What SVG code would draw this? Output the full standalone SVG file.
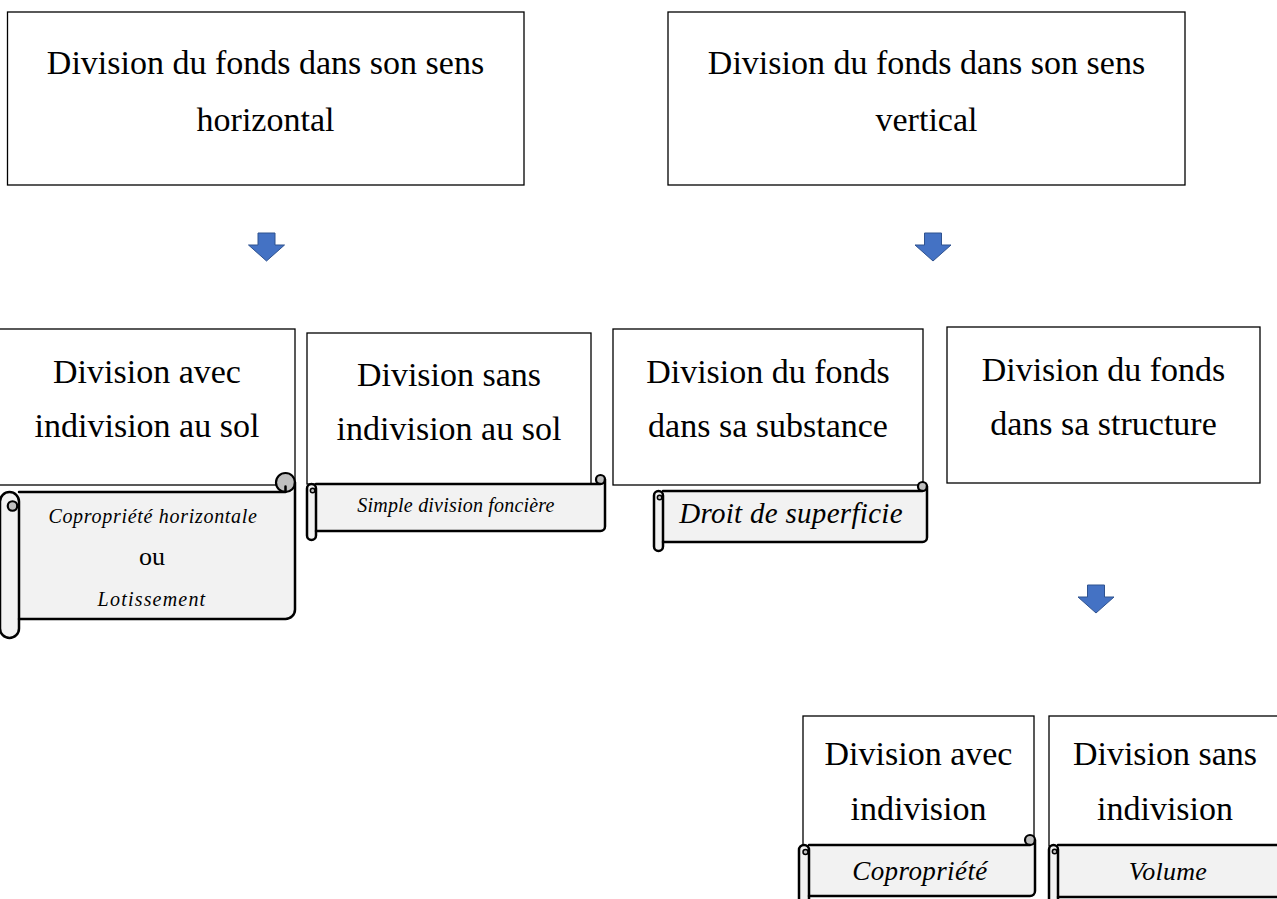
<svg xmlns="http://www.w3.org/2000/svg" width="1277" height="899" viewBox="0 0 1277 899">
<style>
.box{fill:#fff;stroke:#000;stroke-width:1.3}
.t{font-family:"Liberation Serif","Times New Roman",serif;font-size:34px;text-anchor:middle;fill:#000}
.it{font-style:italic}
.sf{fill:#f2f2f2;stroke:none}
.roll{fill:#f2f2f2;stroke:#000;stroke-width:2.5;stroke-linejoin:round}
.sc{fill:none;stroke:#000;stroke-width:2.5;stroke-linejoin:round;stroke-linecap:round}
.curl{fill:#bfbfbf;stroke:#000;stroke-width:2.2}
.arrow{fill:#4472c4;stroke:#2f528f;stroke-width:1}
</style>
<defs>
<path id="darrow" d="M-8.5,0 H8.5 V12 H18 L0,28 L-18,12 H-8.5 Z"/>
</defs>
<rect width="1277" height="899" fill="#fff"/>

<g id="n-horizontal">
<rect class="box" x="7.5" y="12" width="516.5" height="173"/>
<text class="t" x="265.5" y="73.5">Division du fonds dans son sens</text>
<text class="t" x="265.5" y="130.5">horizontal</text>
</g>
<g id="n-vertical">
<rect class="box" x="668" y="12" width="517" height="173"/>
<text class="t" x="926.5" y="73.5">Division du fonds dans son sens</text>
<text class="t" x="926.5" y="130.5">vertical</text>
</g>

<g id="n-avec-sol">
<rect class="box" x="-2" y="329" width="297" height="156"/>
<text class="t" x="147" y="383">Division avec</text>
<text class="t" x="147" y="437">indivision au sol</text>
</g>
<g id="n-sans-sol">
<rect class="box" x="307" y="333" width="284" height="151"/>
<text class="t" x="449" y="386">Division sans</text>
<text class="t" x="449" y="440">indivision au sol</text>
</g>
<g id="n-substance">
<rect class="box" x="613" y="329" width="310" height="156"/>
<text class="t" x="768" y="383">Division du fonds</text>
<text class="t" x="768" y="437">dans sa substance</text>
</g>
<g id="n-structure">
<rect class="box" x="947" y="327" width="313" height="156"/>
<text class="t" x="1103.5" y="381">Division du fonds</text>
<text class="t" x="1103.5" y="435">dans sa structure</text>
</g>
<g id="n-avec">
<rect class="box" x="803" y="716" width="231" height="130"/>
<text class="t" x="918.5" y="765">Division avec</text>
<text class="t" x="918.5" y="820">indivision</text>
</g>
<g id="n-sans">
<rect class="box" x="1049" y="716" width="241" height="130"/>
<text class="t" x="1165" y="765">Division sans</text>
<text class="t" x="1165" y="820">indivision</text>
</g>

<g id="s-copro-horiz">
<path class="sf" d="M19,492 H295 V609.5 A9.5,9.5 0 0 1 285.5,619 H19 Z"/>
<path class="roll" d="M0,501.5 A9.5,9.5 0 0 1 19,501.5 V628.5 A9.5,9.5 0 0 1 0,628.5 Z"/>
<circle class="curl" cx="12.5" cy="506" r="4.75"/>
<circle class="curl" cx="285.5" cy="482.5" r="9.5"/>
<path class="sc" d="M19,492 H285.5 M295,482.5 V609.5 A9.5,9.5 0 0 1 285.5,619 H19 M285.5,492 V486.5"/>
<text class="t it" x="153" y="523" style="font-size:20px;letter-spacing:0.7px">Copropriété horizontale</text>
<text class="t" x="152" y="565" style="font-size:26px">ou</text>
<text class="t it" x="152" y="606" style="font-size:20px;letter-spacing:1.2px">Lotissement</text>
</g>

<g id="s-simple">
<path class="sf" d="M316,484 H605 V526.5 A4.5,4.5 0 0 1 600.5,531 H316 Z"/>
<path class="roll" d="M307,488.5 A4.5,4.5 0 0 1 316,488.5 V535.5 A4.5,4.5 0 0 1 307,535.5 Z"/>
<circle class="curl" cx="312.6" cy="490.5" r="2.25" style="stroke-width:1.5"/>
<circle class="curl" cx="600.5" cy="479.5" r="4.5"/>
<path class="sc" d="M316,484 H600.5 M605,479.5 V526.5 A4.5,4.5 0 0 1 600.5,531 H316"/>
<text class="t it" x="456" y="512" style="font-size:20px;letter-spacing:0.2px">Simple division foncière</text>
</g>

<g id="s-superficie">
<path class="sf" d="M663,491 H927 V537.5 A4.5,4.5 0 0 1 922.5,542 H663 Z"/>
<path class="roll" d="M654,495.5 A4.5,4.5 0 0 1 663,495.5 V546.5 A4.5,4.5 0 0 1 654,546.5 Z"/>
<circle class="curl" cx="659.6" cy="497.5" r="2.25" style="stroke-width:1.5"/>
<circle class="curl" cx="922.5" cy="486.5" r="4.5"/>
<path class="sc" d="M663,491 H922.5 M927,486.5 V537.5 A4.5,4.5 0 0 1 922.5,542 H663"/>
<text class="t it" x="791" y="523" style="font-size:29px;letter-spacing:0.3px">Droit de superficie</text>
</g>

<g id="s-copro">
<path class="sf" d="M809,845 H1035 V891 A5,5 0 0 1 1030,896 H809 Z"/>
<path class="roll" d="M799,850 A5,5 0 0 1 809,850 V901 A5,5 0 0 1 799,901 Z"/>
<circle class="curl" cx="805.5" cy="852" r="2.5" style="stroke-width:1.5"/>
<circle class="curl" cx="1030" cy="840" r="5"/>
<path class="sc" d="M809,845 H1030 M1035,840 V891 A5,5 0 0 1 1030,896 H809"/>
<text class="t it" x="920" y="880" style="font-size:27px;letter-spacing:0.4px">Copropriété</text>
</g>

<g id="s-volume">
<path class="sf" d="M1058,845 H1290 V892.5 A4.5,4.5 0 0 1 1285.5,897 H1058 Z"/>
<path class="roll" d="M1049,849.5 A4.5,4.5 0 0 1 1058,849.5 V901.5 A4.5,4.5 0 0 1 1049,901.5 Z"/>
<circle class="curl" cx="1054.6" cy="851.5" r="2.25" style="stroke-width:1.5"/>
<path class="sc" d="M1058,845 H1290 M1285.5,897 H1058"/>
<text class="t it" x="1168" y="880" style="font-size:26px;letter-spacing:0.3px">Volume</text>
</g>

<g id="connectors">
<use href="#darrow" class="arrow" transform="translate(266.5,233)"/>
<use href="#darrow" class="arrow" transform="translate(933,233)"/>
<use href="#darrow" class="arrow" transform="translate(1096,585)"/>
</g>
</svg>
